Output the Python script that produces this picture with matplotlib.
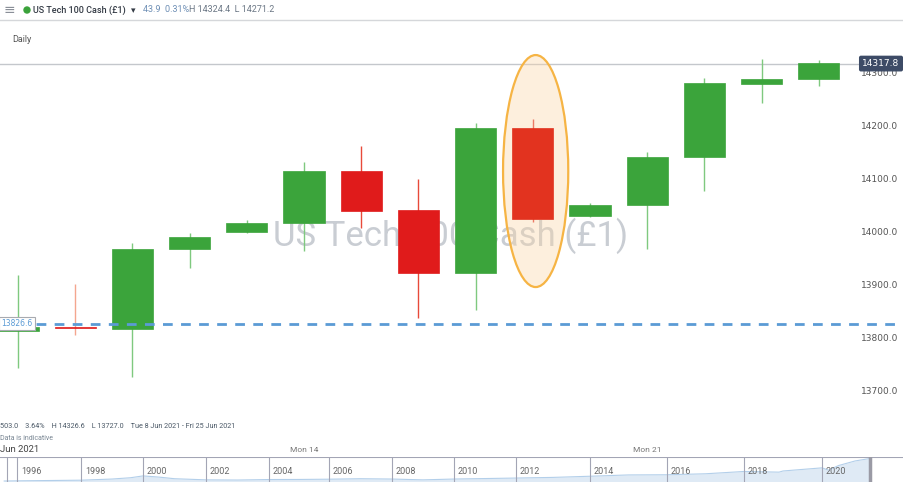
import matplotlib.pyplot as plt
from matplotlib.patches import Rectangle, Ellipse
import numpy as np

W, H = 904, 482

# daily candles (US Tech 100 Cash, June 2021)
opens  = [13814, 13820, 13817, 13968, 14000, 14017, 14115, 14042, 13923, 14196, 14030, 14051, 14142, 14279, 14289]
highs  = [13919, 13902, 13979, 13998, 14023, 14132, 14162, 14100, 14206, 14213, 14055, 14151, 14291, 14326, 14324]
lows   = [13743, 13806, 13727, 13932, 13999, 13964, 14008, 13838, 13853, 14019, 14028, 13968, 14077, 14243, 14276]
closes = [13820, 13818, 13968, 13991, 14017, 14115, 14040, 13923, 14196, 14025, 14051, 14142, 14281, 14289, 14318]
price_ticks = [13700, 13800, 13900, 14000, 14100, 14200, 14300]
last_price = 14317.8
ref_price = 13826.6
highlight = 9
day_labels = {5: 'Mon 14', 11: 'Mon 21'}

# navigator (long-term history)
nav_years  = [1995.6, 1996, 1997, 1998, 1999, 1999.6, 2000, 2000.5, 2001, 2002, 2003, 2004, 2005, 2006, 2007,
              2008, 2009, 2010, 2011, 2012, 2013, 2014, 2015, 2016, 2017, 2018, 2018.9, 2019, 2020, 2020.2, 2020.5, 2021, 2021.45]
nav_values = [600, 700, 900, 1100, 1800, 2600, 3700, 3000, 2000, 1300, 1200, 1500, 1550, 1700, 2000,
              1800, 1300, 1800, 2100, 2400, 2800, 3500, 4300, 4400, 5000, 6400, 6000, 6700, 8600, 7200, 10000, 12800, 14300]
nav_year_ticks = [1996, 1998, 2000, 2002, 2004, 2006, 2008, 2010, 2012, 2014, 2016, 2018, 2020]
nav_tick_px = [17, 81, 143, 206, 269, 329, 392, 454, 516, 590, 667, 744, 822]

green, red = '#3ba43b', '#e01b1b'

fig = plt.figure(figsize=(W / 100, H / 100), dpi=100)
fig.patch.set_facecolor('white')


def fx(x):
    return x / W


def fy(y):
    return 1 - y / H


def ix(x):
    # pixel column -> candle index
    return (x - 18) / 57.2


# main price area, pixel box y 25..420
top, bot = 25, 420
ax = fig.add_axes([0, fy(bot), 1, (bot - top) / H])
ax.set_xlim(ix(0), ix(W))
ax.set_ylim(14300 - (bot - 73) / 0.53, 14300 + (73 - top) / 0.53)
ax.axis('off')

ax.text(0.498, 1 - (236 - top) / (bot - top), 'US Tech 100 Cash (£1)',
        transform=ax.transAxes, ha='center', va='center', fontsize=25, color='#c9cdd3',
        family='Roboto', zorder=0)

# highlight ellipse behind the bearish candle
ell_c = (highlight + 0.05, 14115)
ax.add_patch(Ellipse(ell_c, 1.14, 232 / 0.53, facecolor='#fbd6a8', alpha=0.38, edgecolor='none', zorder=1.5))
ax.add_patch(Ellipse(ell_c, 1.14, 232 / 0.53, facecolor='none', edgecolor='#f6b444', lw=1.6, zorder=4))

bw = 0.72
for i, (o, h, l, c) in enumerate(zip(opens, highs, lows, closes)):
    up = c >= o
    col = green if up else red
    wick = '#7fc97f' if up else '#e84a3a'
    if i == 1:
        wick = '#f4a68f'
    if i == highlight:
        col, wick = '#e2331f', '#ec7a66'
    ax.vlines(i, l, h, color=wick, lw=1, zorder=2)
    b0, b1 = min(o, c), max(o, c)
    ax.add_patch(Rectangle((i - bw / 2, b0), bw, max(b1 - b0, 2.5), facecolor=col,
                           edgecolor=col, lw=0.5, zorder=3))

# last price line and reference dashed line
ax.plot([ix(0), ix(862)], [last_price] * 2, color='#c4c7cc', lw=1, zorder=1)
ax.axhline(ref_price, color='#5b9bd5', lw=2, ls=(0, (3.5, 3)), zorder=5)

for p in price_ticks:
    ax.text(ix(898), p, f'{p:.1f}', ha='right', va='center', fontsize=6.5, color='#555555')

ax.text(ix(881), last_price, f'{last_price:.1f}', ha='center', va='center', fontsize=6.5,
        color='white', zorder=6,
        bbox=dict(boxstyle='round,pad=0.3,rounding_size=0.15', fc='#3d4b66', ec='#3d4b66'))
ax.text(ix(17), ref_price, f'{ref_price:.1f}', ha='center', va='center', fontsize=5.5,
        color='#5b9bd5', zorder=6,
        bbox=dict(boxstyle='square,pad=0.25', fc='white', ec='#a8aab0', lw=0.8))

# header
fig.add_artist(plt.Line2D([0, 1], [fy(20), fy(20)], color='#d5d7da', lw=1))
fig.text(fx(4), fy(10), '≡', fontsize=10, color='#8a8f98', va='center')
fig.add_artist(Ellipse((fx(27), fy(10)), 6 / W, 6 / H, color='#3aa23a', transform=fig.transFigure))
fig.text(fx(33), fy(10), 'US Tech 100 Cash (£1)', fontsize=6.5, color='#333a44', va='center',
         family='Roboto', weight='medium')
fig.text(fx(131), fy(10.5), '▾', fontsize=6.5, color='#333a44', va='center')
fig.text(fx(143), fy(10), '43.9  0.31%', fontsize=6.5, color='#6e8fb5', va='center', family='Roboto')
fig.text(fx(189), fy(10), 'H 14324.4  L 14271.2', fontsize=6.5, color='#6b7785', va='center', family='Roboto')
fig.text(fx(12), fy(40), 'Daily', fontsize=6.5, color='#555555', va='center', family='Roboto')

# footer info
fig.text(fx(0), fy(427), '503.0    3.64%    H 14326.6    L 13727.0    Tue 8 Jun 2021 - Fri 25 Jun 2021',
         fontsize=5.2, color='#4a5866', va='center', family='Roboto')
fig.text(fx(0), fy(438), 'Data is indicative', fontsize=5, color='#7a8794', va='center', family='Roboto')
fig.text(fx(0), fy(450), 'Jun 2021', fontsize=6.8, color='#444444', va='center', family='Roboto')
for i, lab in day_labels.items():
    fig.text(fx(18 + 57.2 * i), fy(450), lab, fontsize=6, color='#777777', va='center', ha='center',
             family='Roboto')

# navigator
nav = fig.add_axes([0, 0, 1, (H - 457) / H])
nav.set_xlim(0, W)
nav.set_ylim(0, 15200)
nav.axis('off')
yrs = np.array(nav_years)
nav_px = np.interp(yrs, nav_year_ticks, nav_tick_px)
nav_px = np.where(yrs > 2020, 822 + (yrs - 2020) * (870 - 822) / 1.45, nav_px)
nav_px = np.where(yrs < 1996, 17 + (yrs - 1996) * 32, nav_px)
nav.fill_between(nav_px, 0, nav_values, color='#dfeaf5', lw=0, zorder=1)
nav.plot(nav_px, nav_values, color='#b3cfea', lw=0.8, zorder=2)
nav.axhline(15200, color='#a3a5b5', lw=1.5)
nav.axvline(7, color='#a3a5b5', lw=0.8)
for yr, xp in zip(nav_year_ticks, nav_tick_px):
    nav.axvline(xp, color='#a3a5b5', lw=0.8)
    nav.text(xp + 4, 6500, str(yr), fontsize=6.5, color='#666666', va='center', family='Roboto')
nav.axvline(870, color='#9a9aa5', lw=2.5)

fig.savefig('out.png', dpi=100)
